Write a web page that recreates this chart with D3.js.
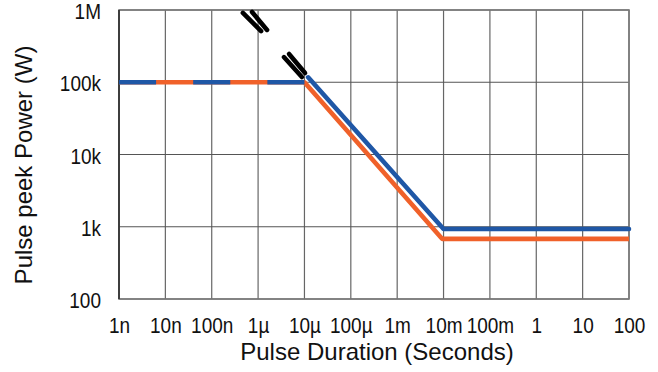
<!DOCTYPE html>
<html>
<head>
<meta charset="utf-8">
<script src="https://cdn.jsdelivr.net/npm/d3@7/dist/d3.min.js"></script>
<style>
  html, body { margin: 0; padding: 0; background: #fff; }
  svg { display: block; }
  text { font-family: "Liberation Sans", Arial, sans-serif; fill: #111; }
</style>
</head>
<body>
<svg id="chart" width="658" height="372"></svg>
<script>
// ---- data ----
const xTicks = [1e-9, 1e-8, 1e-7, 1e-6, 1e-5, 1e-4, 1e-3, 1e-2, 1e-1, 1, 10, 100];
const xTickLabels = ["1n", "10n", "100n", "1µ", "10µ", "100µ", "1m", "10m", "100m", "1", "10", "100"];
const yTicks = [100, 1e3, 1e4, 1e5, 1e6];
const yTickLabels = ["100", "1k", "10k", "100k", "1M"];

// shared flat section (drawn as alternating blue/orange dashes)
const flatSection = [[1e-9, 1e5], [1e-5, 1e5]];
// orange series: flat, slope, floor
const orangeSeries = [[1e-9, 1e5], [1e-5, 1e5], [9.3e-3, 680], [100, 680]];
// blue series: slope, floor
const blueSeries = [[1.2e-5, 1.17e5], [1e-2, 930], [100, 930]];
// black double break marks (extension of slope above)
const breakMarks = [
  [[4.7e-7, 9.1e5], [1.16e-6, 5.1e5]],
  [[7.4e-7, 9.4e5], [1.56e-6, 5.3e5]],
  [[3.6e-6, 2.23e5], [8.8e-6, 1.18e5]],
  [[4.65e-6, 2.46e5], [1.03e-5, 1.34e5]]
];

const xTitle = "Pulse Duration (Seconds)";
const yTitle = "Pulse peek Power (W)";

// ---- layout ----
const svg = d3.select("#chart");
const mLeft = 119, mRight = 629, mTop = 10, mBottom = 299;
const stretch = 1.12;

const x = d3.scaleLog().domain([1e-9, 100]).range([mLeft, mRight]);
const y = d3.scaleLog().domain([100, 1e6]).range([mBottom, mTop]);

const blue = "#1f57a6";
const orange = "#f0612a";

// gridlines
const grid = svg.append("g");
grid.selectAll("line.v").data(xTicks).join("line")
  .attr("x1", d => x(d)).attr("x2", d => x(d))
  .attr("y1", mTop).attr("y2", mBottom)
  .attr("stroke", "#666").attr("stroke-width", 1.2);
grid.selectAll("line.h").data(yTicks).join("line")
  .attr("x1", mLeft).attr("x2", mRight)
  .attr("y1", d => y(d)).attr("y2", d => y(d))
  .attr("stroke", "#555").attr("stroke-width", 1.2);

// border
svg.append("rect")
  .attr("x", mLeft).attr("y", mTop)
  .attr("width", mRight - mLeft).attr("height", mBottom - mTop)
  .attr("fill", "none").attr("stroke", "#7a7a7a").attr("stroke-width", 1.6);
svg.append("line")
  .attr("x1", mLeft).attr("x2", mLeft).attr("y1", mTop).attr("y2", mBottom)
  .attr("stroke", "#222").attr("stroke-width", 1.4);

// axes labels via d3 axes
const xAxis = d3.axisBottom(x).tickValues(xTicks)
  .tickFormat((d, i) => xTickLabels[i]).tickSize(0).tickPadding(0);
const gx = svg.append("g").attr("transform", `translate(0,${mBottom})`).call(xAxis);
gx.select(".domain").remove();
gx.selectAll("text").attr("font-size", 19).attr("dy", null).attr("y", 34 / stretch)
  .attr("transform", `scale(1,${stretch})`)
  .attr("font-family", "Liberation Sans, Arial, sans-serif").attr("fill", "#111");

const yAxis = d3.axisLeft(y).tickValues(yTicks)
  .tickFormat((d, i) => yTickLabels[i]).tickSize(0).tickPadding(0);
const gy = svg.append("g").attr("transform", `translate(${mLeft - 18},0)`).call(yAxis);
gy.select(".domain").remove();
gy.selectAll("text").attr("font-size", 19).attr("dy", "0.4em").attr("x", 0)
  .attr("transform", `scale(1,${stretch})`)
  .attr("font-family", "Liberation Sans, Arial, sans-serif").attr("fill", "#111");

// titles
svg.append("text").attr("x", 377).attr("y", 360)
  .attr("text-anchor", "middle").attr("font-size", 24).text(xTitle);
svg.append("text").attr("transform", "translate(32,165) rotate(-90)")
  .attr("text-anchor", "middle").attr("font-size", 24).text(yTitle);

// lines
const line = d3.line().x(d => x(d[0])).y(d => y(d[1]));

svg.append("path").datum(orangeSeries)
  .attr("d", line).attr("fill", "none")
  .attr("stroke", orange).attr("stroke-width", 4.6)
  .attr("stroke-linejoin", "round");

const flatLen = x(flatSection[1][0]) - x(flatSection[0][0]);
svg.append("path").datum(flatSection)
  .attr("d", line).attr("fill", "none")
  .attr("stroke", blue).attr("stroke-width", 4.6)
  .attr("stroke-dasharray", `${flatLen / 5} ${flatLen / 5}`);

svg.append("g").selectAll("path").data(breakMarks).join("path")
  .attr("d", line).attr("fill", "none")
  .attr("stroke", "#000").attr("stroke-width", 4.6)
  .attr("stroke-linecap", "round");

svg.append("path").datum(blueSeries)
  .attr("d", line).attr("fill", "none")
  .attr("stroke", blue).attr("stroke-width", 4.6)
  .attr("stroke-linejoin", "round").attr("stroke-linecap", "round");
</script>
</body>
</html>
